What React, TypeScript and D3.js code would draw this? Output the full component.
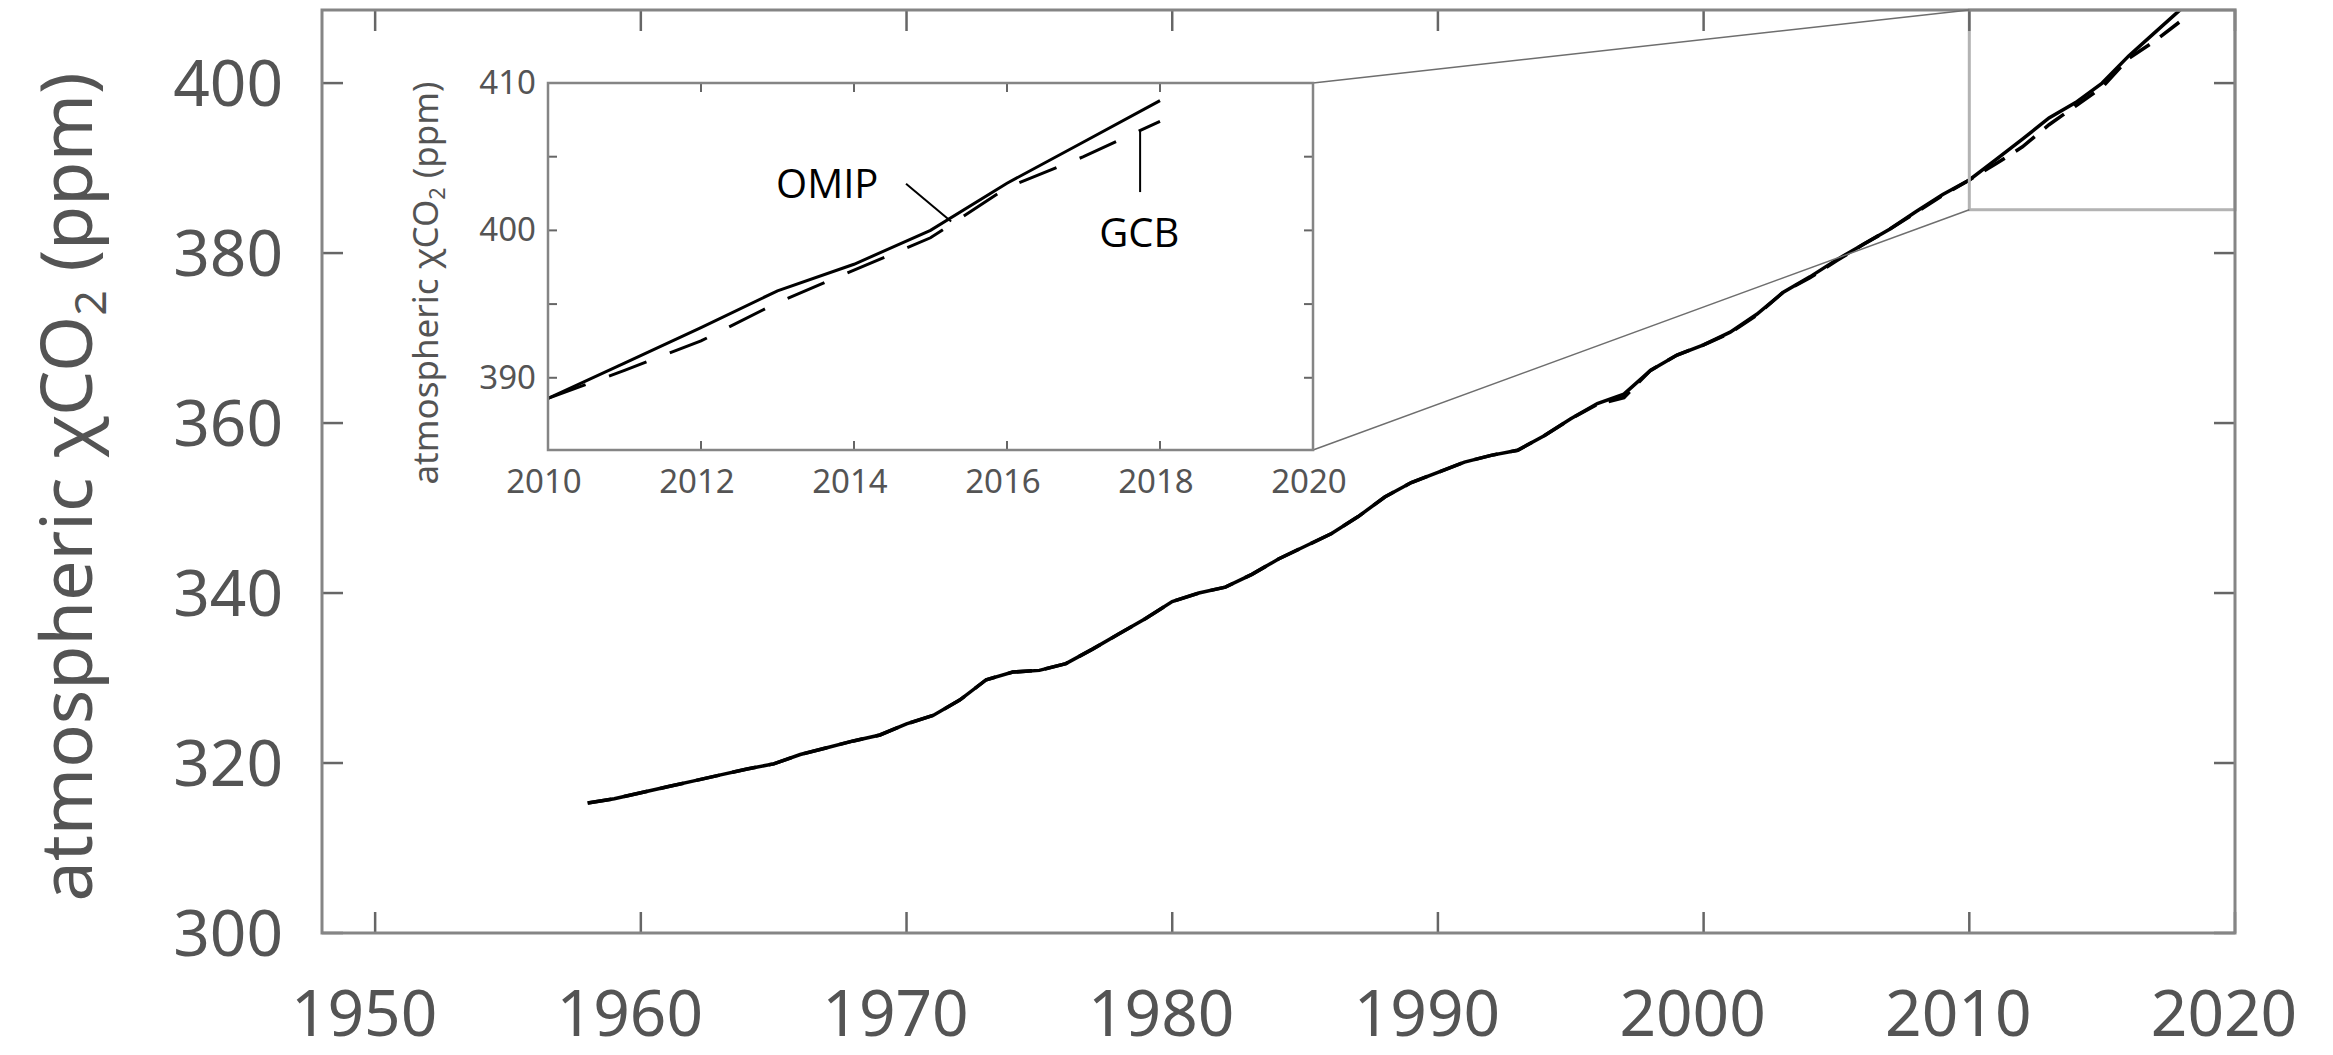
import { useRef, useEffect } from "react";
import * as d3 from "d3";

// ── Data ──────────────────────────────────────────────────────────────────────

const YEARS = d3.range(1958, 2019);

// OMIP forcing, atmospheric xCO2 (ppm), one value per year
const OMIP = [
  315.3, 315.8, 316.5, 317.2, 317.9, 318.6, 319.3, 319.9, 321.0, 321.8,
  322.6, 323.3, 324.6, 325.6, 327.4, 329.8, 330.7, 330.9, 331.7, 333.4,
  335.2, 337.0, 339.0, 340.0, 340.7, 342.2, 344.0, 345.5, 347.0, 349.0,
  351.3, 353.0, 354.2, 355.4, 356.2, 356.8, 358.5, 360.5, 362.3, 363.4,
  366.2, 368.0, 369.2, 370.7, 372.8, 375.4, 377.2, 379.2, 381.0, 382.8,
  384.9, 386.9, 388.6, 391.0, 393.4, 395.9, 397.7, 400.0, 403.2, 406.0,
  408.8,
];

// Global Carbon Budget, atmospheric xCO2 (ppm)
const GCB = [
  315.3, 315.8, 316.5, 317.2, 317.9, 318.6, 319.3, 319.9, 321.0, 321.8,
  322.6, 323.3, 324.6, 325.6, 327.4, 329.8, 330.7, 330.9, 331.7, 333.4,
  335.2, 337.0, 339.0, 340.0, 340.7, 342.2, 344.0, 345.5, 347.0, 349.0,
  351.3, 353.0, 354.2, 355.4, 356.2, 356.8, 358.5, 360.5, 362.2, 363.0,
  366.2, 368.0, 369.2, 370.6, 372.7, 375.4, 377.1, 379.1, 381.0, 382.8,
  384.8, 386.8, 388.6, 390.5, 392.5, 395.1, 397.3, 399.5, 402.9, 405.0,
  407.4,
];

const MAIN_X_TICKS = [1950, 1960, 1970, 1980, 1990, 2000, 2010, 2020];
const MAIN_Y_TICKS = [300, 320, 340, 360, 380, 400];
const INSET_X_TICKS = [2010, 2012, 2014, 2016, 2018, 2020];
const INSET_Y_TICKS = [390, 395, 400, 405, 410];
const INSET_Y_LABELS = [390, 400, 410];

const MAIN_X_DOMAIN: [number, number] = [1948, 2020];
const MAIN_Y_DOMAIN: [number, number] = [300, 408.6];
const INSET_X_DOMAIN: [number, number] = [2010, 2020];
const INSET_Y_DOMAIN: [number, number] = [385.1, 410];

// Annotations inside the inset (data coordinates)
const LABELS = [
  { text: "OMIP", x: 2013.65, y: 402.17, from: [2014.68, 403.17], to: [2015.27, 400.6] },
  { text: "GCB", x: 2017.73, y: 398.87, from: [2017.74, 406.74], to: [2017.74, 402.6] },
];

// ── Layout ────────────────────────────────────────────────────────────────────

const W = 2333;
const H = 1055;
const MAIN = { left: 322, right: 2235, top: 10, bottom: 933 };
const INSET = { left: 548, right: 1313, top: 83, bottom: 450 };

const FONT = "'Noto Sans', 'Open Sans', sans-serif";
const LABEL_FONT = "'Open Sans', 'Noto Sans', sans-serif";
const TEXT_GRAY = "#545454";
const FRAME_GRAY = "#858585";
const TICK_GRAY = "#666666";

type Pt = { year: number; v: number };

function series(values: number[], from = -Infinity): Pt[] {
  return YEARS.map((year, i) => ({ year, v: values[i] })).filter((d) => d.year >= from);
}

function yTitle(
  g: d3.Selection<SVGGElement, unknown, null, undefined>,
  x: number,
  y: number,
  size: number
) {
  const t = g
    .append("text")
    .attr("transform", `translate(${x},${y}) rotate(-90)`)
    .attr("text-anchor", "middle")
    .attr("fill", TEXT_GRAY)
    .attr("font-family", FONT)
    .attr("font-size", size);
  t.append("tspan").text("atmospheric χCO");
  t.append("tspan").attr("font-size", size * 0.62).attr("dy", size * 0.2).text("2");
  t.append("tspan").attr("dy", -size * 0.2).text(" (ppm)");
}

// ── Renderer ──────────────────────────────────────────────────────────────────

function render(svg: SVGSVGElement) {
  const root = d3.select(svg);
  root.selectAll("*").remove();
  root.append("rect").attr("width", W).attr("height", H).attr("fill", "#fff");

  const defs = root.append("defs");
  defs
    .append("clipPath")
    .attr("id", "main-clip")
    .append("rect")
    .attr("x", MAIN.left)
    .attr("y", MAIN.top)
    .attr("width", MAIN.right - MAIN.left)
    .attr("height", MAIN.bottom - MAIN.top);
  defs
    .append("clipPath")
    .attr("id", "inset-clip")
    .append("rect")
    .attr("x", INSET.left)
    .attr("y", INSET.top)
    .attr("width", INSET.right - INSET.left)
    .attr("height", INSET.bottom - INSET.top);

  const x = d3.scaleLinear().domain(MAIN_X_DOMAIN).range([MAIN.left, MAIN.right]);
  const y = d3.scaleLinear().domain(MAIN_Y_DOMAIN).range([MAIN.bottom, MAIN.top]);
  const xi = d3.scaleLinear().domain(INSET_X_DOMAIN).range([INSET.left, INSET.right]);
  const yi = d3.scaleLinear().domain(INSET_Y_DOMAIN).range([INSET.bottom, INSET.top]);

  // Main panel
  const main = root.append("g");
  const mainLine = d3
    .line<Pt>()
    .x((d) => x(d.year))
    .y((d) => y(d.v));

  main
    .append("path")
    .attr("clip-path", "url(#main-clip)")
    .attr("d", mainLine(series(GCB)))
    .attr("fill", "none")
    .attr("stroke", "#000")
    .attr("stroke-width", 3.5)
    .attr("stroke-dasharray", "24 13");
  main
    .append("path")
    .attr("clip-path", "url(#main-clip)")
    .attr("d", mainLine(series(OMIP)))
    .attr("fill", "none")
    .attr("stroke", "#000")
    .attr("stroke-width", 3.5);

  // Zoom window in the main panel
  main
    .append("rect")
    .attr("x", x(INSET_X_DOMAIN[0]))
    .attr("y", y(MAIN_Y_DOMAIN[1]))
    .attr("width", x(INSET_X_DOMAIN[1]) - x(INSET_X_DOMAIN[0]))
    .attr("height", y(INSET_Y_DOMAIN[0]) - y(MAIN_Y_DOMAIN[1]))
    .attr("fill", "none")
    .attr("stroke", "#b3b3b3")
    .attr("stroke-width", 3);

  // Ticks, all four sides, pointing in
  const TL = 21;
  MAIN_X_TICKS.forEach((t) => {
    main.append("line").attr("x1", x(t)).attr("x2", x(t)).attr("y1", MAIN.bottom).attr("y2", MAIN.bottom - TL);
    main.append("line").attr("x1", x(t)).attr("x2", x(t)).attr("y1", MAIN.top).attr("y2", MAIN.top + TL);
  });
  MAIN_Y_TICKS.forEach((t) => {
    main.append("line").attr("x1", MAIN.left).attr("x2", MAIN.left + TL).attr("y1", y(t)).attr("y2", y(t));
    main.append("line").attr("x1", MAIN.right).attr("x2", MAIN.right - TL).attr("y1", y(t)).attr("y2", y(t));
  });
  main.selectAll("line").attr("stroke", TICK_GRAY).attr("stroke-width", 2.5);

  main
    .append("rect")
    .attr("x", MAIN.left)
    .attr("y", MAIN.top)
    .attr("width", MAIN.right - MAIN.left)
    .attr("height", MAIN.bottom - MAIN.top)
    .attr("fill", "none")
    .attr("stroke", FRAME_GRAY)
    .attr("stroke-width", 3);

  main
    .selectAll(".xl")
    .data(MAIN_X_TICKS)
    .join("text")
    .attr("x", (d) => x(d) - 11)
    .attr("y", 1036)
    .attr("text-anchor", "middle")
    .text((d) => d);
  main
    .selectAll(".yl")
    .data(MAIN_Y_TICKS)
    .join("text")
    .attr("x", 283)
    .attr("y", (d) => y(d) + 23)
    .attr("text-anchor", "end")
    .text((d) => d);
  main
    .selectAll("text")
    .attr("fill", TEXT_GRAY)
    .attr("font-family", FONT)
    .attr("font-size", 64);

  yTitle(main, 92, 487, 72);

  // Connector lines from inset to zoom window
  const conn = root.append("g").attr("stroke", "#6e6e6e").attr("stroke-width", 1.5);
  conn
    .append("line")
    .attr("x1", xi(INSET_X_DOMAIN[1]))
    .attr("y1", yi(INSET_Y_DOMAIN[1]))
    .attr("x2", x(INSET_X_DOMAIN[0]))
    .attr("y2", y(MAIN_Y_DOMAIN[1]));
  conn
    .append("line")
    .attr("x1", xi(INSET_X_DOMAIN[1]))
    .attr("y1", yi(INSET_Y_DOMAIN[0]))
    .attr("x2", x(INSET_X_DOMAIN[0]))
    .attr("y2", y(INSET_Y_DOMAIN[0]));

  // Inset panel
  const inset = root.append("g");
  inset
    .append("rect")
    .attr("x", INSET.left)
    .attr("y", INSET.top)
    .attr("width", INSET.right - INSET.left)
    .attr("height", INSET.bottom - INSET.top)
    .attr("fill", "#fff");

  const insetLine = d3
    .line<Pt>()
    .x((d) => xi(d.year))
    .y((d) => yi(d.v));
  inset
    .append("path")
    .attr("clip-path", "url(#inset-clip)")
    .attr("d", insetLine(series(GCB, INSET_X_DOMAIN[0])))
    .attr("fill", "none")
    .attr("stroke", "#000")
    .attr("stroke-width", 3)
    .attr("stroke-dasharray", "40 25");
  inset
    .append("path")
    .attr("clip-path", "url(#inset-clip)")
    .attr("d", insetLine(series(OMIP, INSET_X_DOMAIN[0])))
    .attr("fill", "none")
    .attr("stroke", "#000")
    .attr("stroke-width", 3);

  const ticksG = inset.append("g").attr("stroke", TICK_GRAY).attr("stroke-width", 2);
  const TI = 9;
  INSET_X_TICKS.forEach((t) => {
    ticksG.append("line").attr("x1", xi(t)).attr("x2", xi(t)).attr("y1", INSET.bottom).attr("y2", INSET.bottom - TI);
    ticksG.append("line").attr("x1", xi(t)).attr("x2", xi(t)).attr("y1", INSET.top).attr("y2", INSET.top + TI);
  });
  INSET_Y_TICKS.forEach((t) => {
    ticksG.append("line").attr("x1", INSET.left).attr("x2", INSET.left + TI).attr("y1", yi(t)).attr("y2", yi(t));
    ticksG.append("line").attr("x1", INSET.right).attr("x2", INSET.right - TI).attr("y1", yi(t)).attr("y2", yi(t));
  });

  inset
    .append("rect")
    .attr("x", INSET.left)
    .attr("y", INSET.top)
    .attr("width", INSET.right - INSET.left)
    .attr("height", INSET.bottom - INSET.top)
    .attr("fill", "none")
    .attr("stroke", FRAME_GRAY)
    .attr("stroke-width", 2.5);

  const tickText = inset.append("g");
  tickText
    .selectAll(".ixl")
    .data(INSET_X_TICKS)
    .join("text")
    .attr("x", (d) => xi(d) - 4)
    .attr("y", 493)
    .attr("text-anchor", "middle")
    .text((d) => d);
  tickText
    .selectAll(".iyl")
    .data(INSET_Y_LABELS)
    .join("text")
    .attr("x", 536)
    .attr("y", (d) => yi(d) + 11)
    .attr("text-anchor", "end")
    .text((d) => d);
  tickText
    .selectAll("text")
    .attr("fill", TEXT_GRAY)
    .attr("font-family", FONT)
    .attr("font-size", 33);

  yTitle(inset, 438, 283, 35);

  // Series labels with leader lines
  LABELS.forEach((l) => {
    inset
      .append("line")
      .attr("x1", xi(l.from[0]))
      .attr("y1", yi(l.from[1]))
      .attr("x2", xi(l.to[0]))
      .attr("y2", yi(l.to[1]))
      .attr("stroke", "#000")
      .attr("stroke-width", 2);
    inset
      .append("text")
      .attr("x", xi(l.x))
      .attr("y", yi(l.y))
      .attr("text-anchor", "middle")
      .attr("fill", "#000")
      .attr("font-family", LABEL_FONT)
      .attr("font-size", 40)
      .text(l.text);
  });
}

// ── Component ─────────────────────────────────────────────────────────────────

export default function App() {
  const svgRef = useRef<SVGSVGElement>(null);

  useEffect(() => {
    if (svgRef.current) render(svgRef.current);
  }, []);

  return (
    <div style={{ position: "fixed", left: 0, top: 0 }}>
      <svg ref={svgRef} width={W} height={H} viewBox={`0 0 ${W} ${H}`} style={{ display: "block" }} />
    </div>
  );
}
